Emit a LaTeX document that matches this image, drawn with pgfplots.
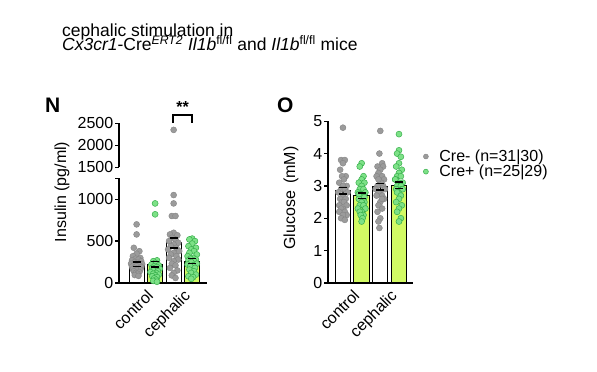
\documentclass[border=0pt]{standalone}
\usepackage{pgfplots}
\pgfplotsset{compat=1.18}
\usepackage{fontspec}
\setmainfont{Liberation Sans}
\definecolor{grayPt}{RGB}{155,155,155}
\definecolor{greenPt}{RGB}{125,225,135}
\definecolor{greenEdge}{RGB}{55,175,75}
\definecolor{barGreen}{RGB}{210,250,100}
\newcommand{\fs}{\fontsize{16}{18}\selectfont}
\pgfplotsset{
  base/.style={scale only axis, clip=false,
    axis x line=bottom, axis y line=left,
    axis line style={line width=1.3pt,-},
    every tick/.style={line width=1.3pt, black},
    tick align=outside, major tick length=4pt,
    xtick={1.5,3.5}, x tick style={draw=none},
    xticklabel style={rotate=45, anchor=north east, inner sep=1pt, font=\fs},
    yticklabel style={font=\fs, inner sep=1.5pt},
    /pgf/number format/assume math mode=true,
    /pgf/number format/set thousands separator={},
    scaled ticks=false},
  grayp/.style={only marks, mark=*, mark size=3pt, mark options={fill=grayPt, draw=grayPt!85!black, line width=0.4pt}},
  greenp/.style={only marks, mark=*, mark size=3pt, mark options={fill=greenPt, draw=greenEdge, line width=0.5pt}},
  ebar/.style={black, line width=1.3pt, mark=-, mark size=4pt, mark options={solid, line width=1.3pt}, forget plot},
}
\begin{document}
\begin{tikzpicture}[x=1pt,y=1pt]
\useasboundingbox (0pt,0pt) rectangle (597pt,372pt);
% title
\node[anchor=base west, inner sep=0, font=\fontsize{17.5}{19}\selectfont] at (62pt,335pt) {cephalic stimulation in};
\node[anchor=base west, inner sep=0, font=\fontsize{17.5}{19}\selectfont] at (62pt,321pt)
  {\textit{Cx3cr1}-Cre\textsuperscript{\textit{ERT2}} \textit{Il1b}\textsuperscript{fl/fl} and \textit{Il1b}\textsuperscript{fl/fl} mice};
\node[anchor=base west, inner sep=0, font=\fontsize{21}{23}\selectfont\bfseries] at (45pt,259pt) {N};
\node[anchor=base west, inner sep=0, font=\fontsize{21}{23}\selectfont\bfseries] at (277pt,259pt) {O};
\node[rotate=90, font=\fs] at (62pt,180pt) {Insulin (pg/ml)};
\node[rotate=90, font=\fs] at (291pt,174pt) {Glucose\, (mM)};

% ---- Panel N lower
\begin{axis}[base, at={(119pt,89pt)}, anchor=south west, width=88pt, height=104.7pt,
  xmin=0.05, xmax=4.8, ymin=0, ymax=1250,
  ytick={0,500,1000}, extra y ticks={1250}, extra y tick labels={},
  xticklabels={control,cephalic}]
\addplot[ybar, bar width=0.82, bar shift=0pt, fill=white, draw=black, line width=1pt, forget plot] coordinates {(1,225) (3,478)};
\addplot[ybar, bar width=0.82, bar shift=0pt, fill=barGreen, draw=black, line width=1pt, forget plot] coordinates {(2,225) (4,261)};
\addplot[grayp] coordinates {
(1.00,700) (1.00,580) (0.85,420) (1.15,380) (1.0,350) (0.8,320) (1.2,300) (0.95,290) (1.1,280) (0.75,270) (1.25,260) (0.9,250) (1.05,240) (0.7,230) (1.3,225) (0.85,215) (1.15,210) (1.0,200) (0.75,195) (1.25,190) (0.9,180) (1.1,175) (0.8,165) (1.2,160) (1.0,150) (0.85,140) (1.15,130) (0.95,120) (1.05,110) (0.9,95) (1.1,85)
(3.0,1050) (3.0,950) (2.9,800) (3.1,800) (3.0,600) (2.8,580) (3.2,570) (2.9,540) (3.1,520) (2.75,500) (3.25,480) (3.0,460) (2.85,440) (3.15,420) (2.7,400) (3.3,380) (3.0,360) (2.85,340) (3.15,320) (2.75,300) (3.25,280) (3.0,260) (2.9,230) (3.1,210) (2.8,180) (3.2,150) (3.0,120) (2.9,90) (3.1,60)};
\addplot[greenp] coordinates {
(2.0,950) (2.0,820) (2.1,270) (1.9,260) (2.0,240) (1.8,220) (2.2,210) (1.95,200) (2.1,190) (1.85,180) (2.25,170) (2.0,160) (1.9,150) (2.15,140) (1.75,130) (2.05,120) (1.9,110) (2.2,100) (2.0,90) (1.85,80) (2.1,70) (1.95,55) (2.05,40) (1.9,25) (2.1,15)
(4.0,530) (3.85,520) (4.15,500) (4.0,470) (3.8,440) (4.2,420) (3.95,400) (4.1,380) (3.85,360) (4.25,340) (3.75,320) (4.05,300) (3.9,290) (4.2,280) (3.8,270) (4.1,260) (3.95,250) (4.25,230) (3.75,220) (4.05,210) (3.9,200) (4.15,180) (3.85,160) (4.1,140) (3.95,120) (4.2,100) (3.8,80) (4.05,70) (3.95,50)};
\addplot[ebar] coordinates {(1,200) (1,250)};
\addplot[ebar] coordinates {(2,190) (2,260)};
\addplot[ebar] coordinates {(3,418) (3,538)};
\addplot[ebar] coordinates {(4,231) (4,291)};
\end{axis}

% ---- Panel N upper
\begin{axis}[base, at={(119pt,204.7pt)}, anchor=south west, width=88pt, height=44pt,
  axis x line=none, xmin=0.05, xmax=4.8, ymin=1500, ymax=2500,
  ytick={1500,2000,2500}]
\addplot[grayp] coordinates {(3.0,2350)};
\draw[line width=1.2pt] (axis cs:2.96,2514) -- (axis cs:2.96,2689) -- (axis cs:3.99,2689) -- (axis cs:3.99,2514);
\node[font=\fs\bfseries] at (axis cs:3.48,2880) {**};
\end{axis}

% ---- Panel O
\begin{axis}[base, at={(328pt,89pt)}, anchor=south west, width=85pt, height=161.8pt,
  xmin=0.2, xmax=4.75, ymin=0, ymax=5, ytick={0,1,2,3,4,5},
  xticklabels={control,cephalic},
  legend style={at={(1.12,0.735)}, anchor=west, draw=none, fill=none, inner sep=0pt, font=\fs,
    column sep=7pt, nodes={inner xsep=4pt, inner ysep=1pt}},
  legend cell align=left,
  legend image post style={mark size=2.5pt}]
\addplot[ybar, bar width=0.82, bar shift=0pt, fill=white, draw=black, line width=1pt, forget plot] coordinates {(1,2.85) (3,2.97)};
\addplot[ybar, bar width=0.82, bar shift=0pt, fill=barGreen, draw=black, line width=1pt, forget plot] coordinates {(2,2.70) (4,3.02)};
\addplot[grayp] coordinates {
(1.0,4.8) (0.9,3.8) (1.1,3.8) (1.0,3.7) (0.85,3.5) (1.15,3.3) (0.95,3.3) (1.05,3.2) (0.8,3.1) (1.2,3.0) (1.0,3.0) (0.9,2.9) (1.1,2.9) (0.75,2.8) (1.25,2.8) (1.0,2.7) (0.85,2.6) (1.15,2.6) (0.95,2.5) (1.05,2.5) (0.8,2.4) (1.2,2.4) (1.0,2.3) (0.9,2.3) (1.1,2.2) (0.8,2.2) (1.2,2.1) (1.0,2.1) (0.9,2.0) (1.1,1.95)
(3.0,4.7) (2.95,4.0) (3.1,3.7) (2.85,3.6) (3.15,3.6) (3.0,3.5) (2.9,3.4) (3.1,3.3) (2.8,3.3) (3.2,3.2) (3.0,3.1) (2.85,3.0) (3.15,3.0) (2.75,2.9) (3.25,2.9) (3.0,2.8) (2.9,2.8) (3.1,2.7) (2.8,2.7) (3.2,2.6) (3.0,2.5) (2.9,2.4) (3.1,2.3) (2.85,2.2) (3.0,2.0) (2.9,1.9) (2.95,1.7) (3.05,3.1) (2.9,3.2) (3.1,2.6)};
\addlegendentry{Cre- (n=31\textbar 30)}
\addplot[greenp] coordinates {
(2.0,3.7) (1.9,3.6) (2.1,3.3) (2.0,3.2) (1.85,3.1) (2.15,3.1) (2.0,3.0) (1.9,2.9) (2.1,2.9) (1.8,2.8) (2.2,2.8) (2.0,2.7) (1.9,2.7) (2.1,2.6) (1.85,2.6) (2.15,2.5) (2.0,2.5) (1.9,2.4) (2.1,2.4) (1.8,2.3) (2.2,2.3) (2.0,2.2) (1.9,2.2) (2.1,2.1) (1.95,2.1) (2.05,2.0) (2.0,1.9) (1.85,2.75) (2.15,2.65)
(4.0,4.6) (4.0,4.1) (3.9,4.0) (4.1,3.9) (4.0,3.7) (3.85,3.6) (4.15,3.5) (4.0,3.4) (3.9,3.3) (4.1,3.3) (3.8,3.2) (4.2,3.1) (4.0,3.1) (3.9,3.0) (4.1,3.0) (3.85,2.9) (4.15,2.9) (4.0,2.8) (3.9,2.8) (4.1,2.7) (4.0,2.6) (3.85,2.5) (4.15,2.4) (4.0,2.3) (3.9,2.2) (4.1,2.0) (4.0,1.9) (3.8,3.2) (4.2,2.9)};
\addlegendentry{Cre+ (n=25\textbar 29)}
\addplot[ebar] coordinates {(1,2.75) (1,2.95)};
\addplot[ebar] coordinates {(2,2.62) (2,2.78)};
\addplot[ebar] coordinates {(3,2.87) (3,3.07)};
\addplot[ebar] coordinates {(4,2.92) (4,3.12)};
\end{axis}
\end{tikzpicture}
\end{document}
